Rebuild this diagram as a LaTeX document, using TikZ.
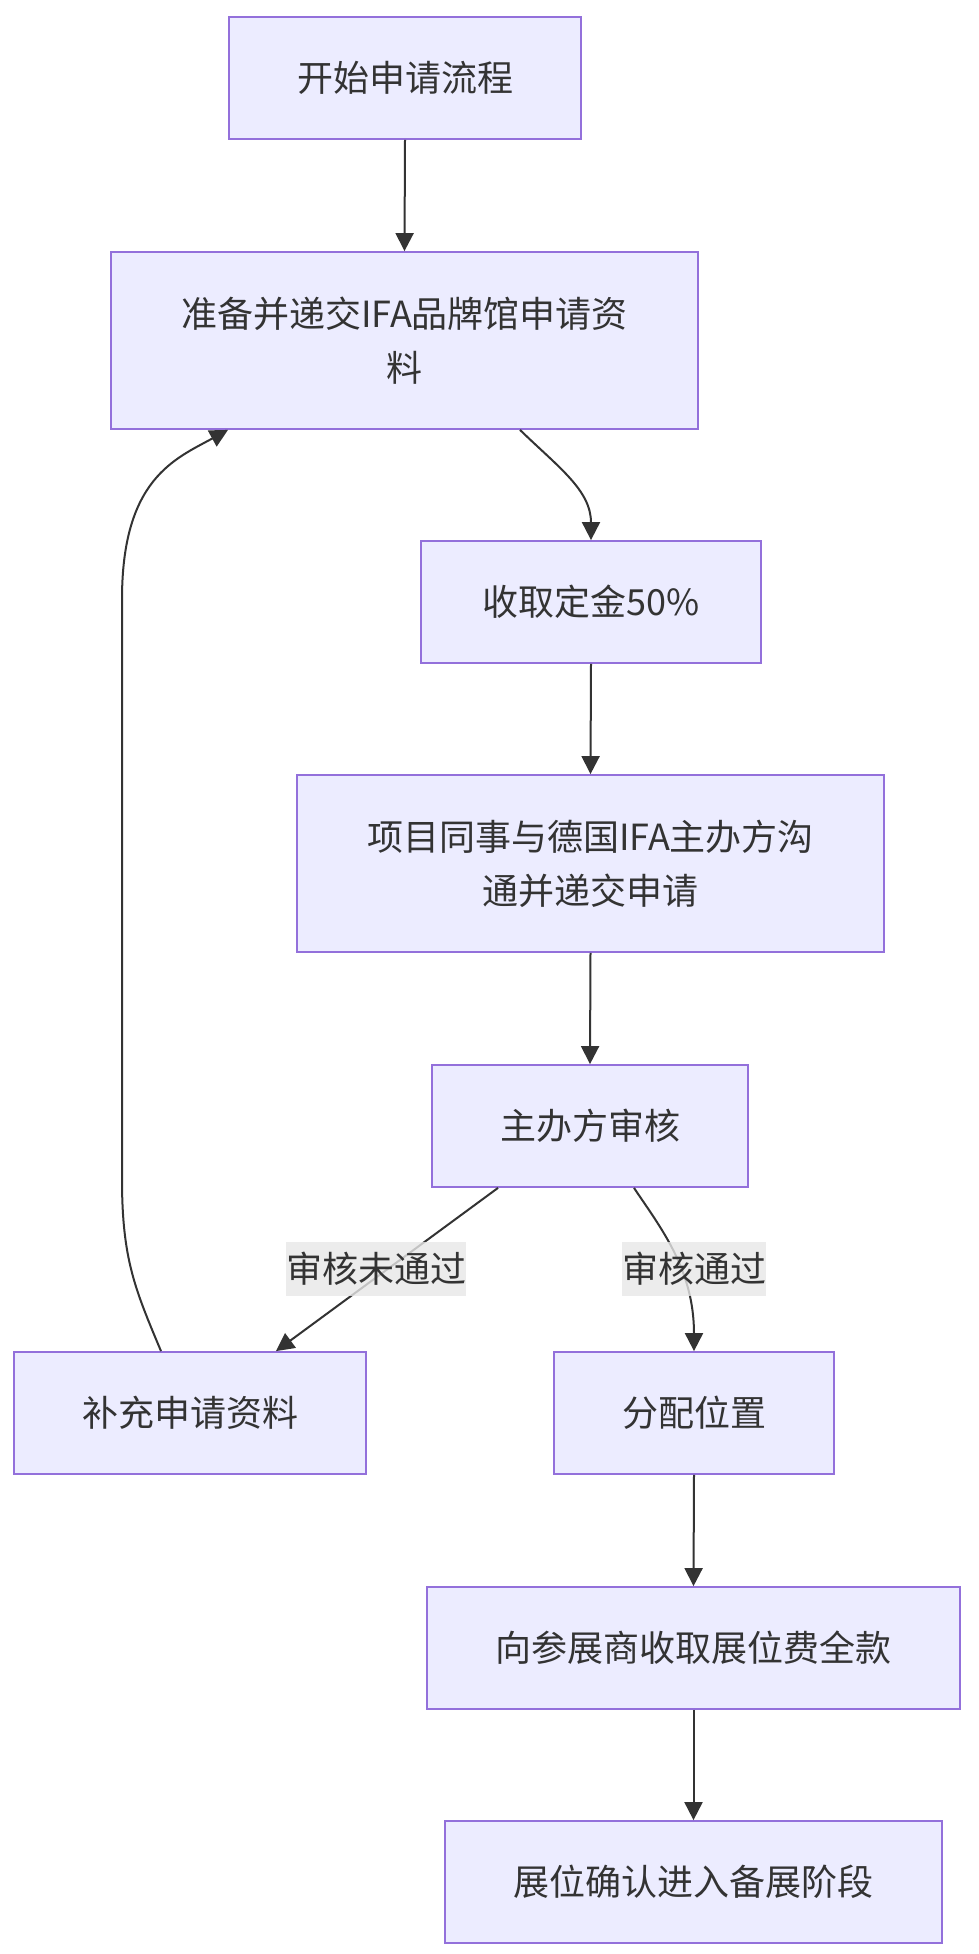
\documentclass[tikz,border=0pt]{standalone}
\usepackage{fontspec}
\setmainfont{Noto Sans CJK SC}
\usetikzlibrary{arrows.meta}
\definecolor{nodefill}{HTML}{ECECFF}
\definecolor{nodeline}{HTML}{9370DB}
\definecolor{edgecol}{HTML}{333333}
\definecolor{txt}{HTML}{333333}
\definecolor{lblbg}{HTML}{E8E8E8}
\begin{document}
\begin{tikzpicture}[x=1pt,y=-1pt,
  box/.style={draw=nodeline, fill=nodefill, line width=1.8pt, text=txt,
    align=center, inner sep=0pt, font=\fontsize{36}{54}\selectfont},
  edge/.style={draw=edgecol, line width=2pt,
    -{Triangle[length=18pt,width=18pt]}},
  lbl/.style={fill=lblbg, fill opacity=0.8, text opacity=1, text=txt,
    inner sep=0pt, minimum height=54pt, font=\fontsize{36}{54}\selectfont}]
\fill[white] (0,0) rectangle (979,1954);
\useasboundingbox (0,0) rectangle (979,1954);

\node[box, minimum width=352pt, minimum height=122pt] (b1) at (405,78) {开始申请流程};
\node[box, minimum width=587pt, minimum height=177pt] (b2) at (404.5,340.5) {准备并递交IFA品牌馆申请资\\料};
\node[box, minimum width=340pt, minimum height=122pt] (b3) at (591,602) {收取定金50\%};
\node[box, minimum width=587pt, minimum height=177pt] (b4) at (590.5,863.5) {项目同事与德国IFA主办方沟\\通并递交申请};
\node[box, minimum width=316pt, minimum height=122pt] (b5) at (590,1126) {主办方审核};
\node[box, minimum width=352pt, minimum height=122pt] (b6) at (190,1413) {补充申请资料};
\node[box, minimum width=280pt, minimum height=122pt] (b7) at (694,1413) {分配位置};
\node[box, minimum width=533pt, minimum height=122pt] (b8) at (693.5,1648) {向参展商收取展位费全款};
\node[box, minimum width=497pt, minimum height=122pt] (b9) at (693.5,1882) {展位确认进入备展阶段};

\draw[edge] (b1.south) -- (b2.north);
\draw[edge] ([xshift=115.5pt]b2.south) .. controls +(38,37) and +(0,-50) .. (b3.north);
\draw[edge] (b3.south) -- (b4.north);
\draw[edge] (b4.south) -- (b5.north);
\draw[edge] ([xshift=-92pt]b5.south) -- ([xshift=86pt]b6.north);
\draw[edge] ([xshift=44pt]b5.south) .. controls +(26,39) and +(0,-82) .. (b7.north);
\draw[edge] ([xshift=-29pt]b6.north) .. controls +(-26,-62) and +(0,80) .. ++(-39,-172)
  -- ++(0,-580) .. controls +(0,-120) and +(-53,29) .. ([xshift=-176.5pt]b2.south);
\draw[edge] (b7.south) -- (b8.north);
\draw[edge] (b8.south) -- (b9.north);

\node[lbl, minimum width=180pt] (l1) at (376,1269) {审核未通过};
\node[lbl, minimum width=144pt] (l2) at (694,1269) {审核通过};
\end{tikzpicture}
\end{document}
